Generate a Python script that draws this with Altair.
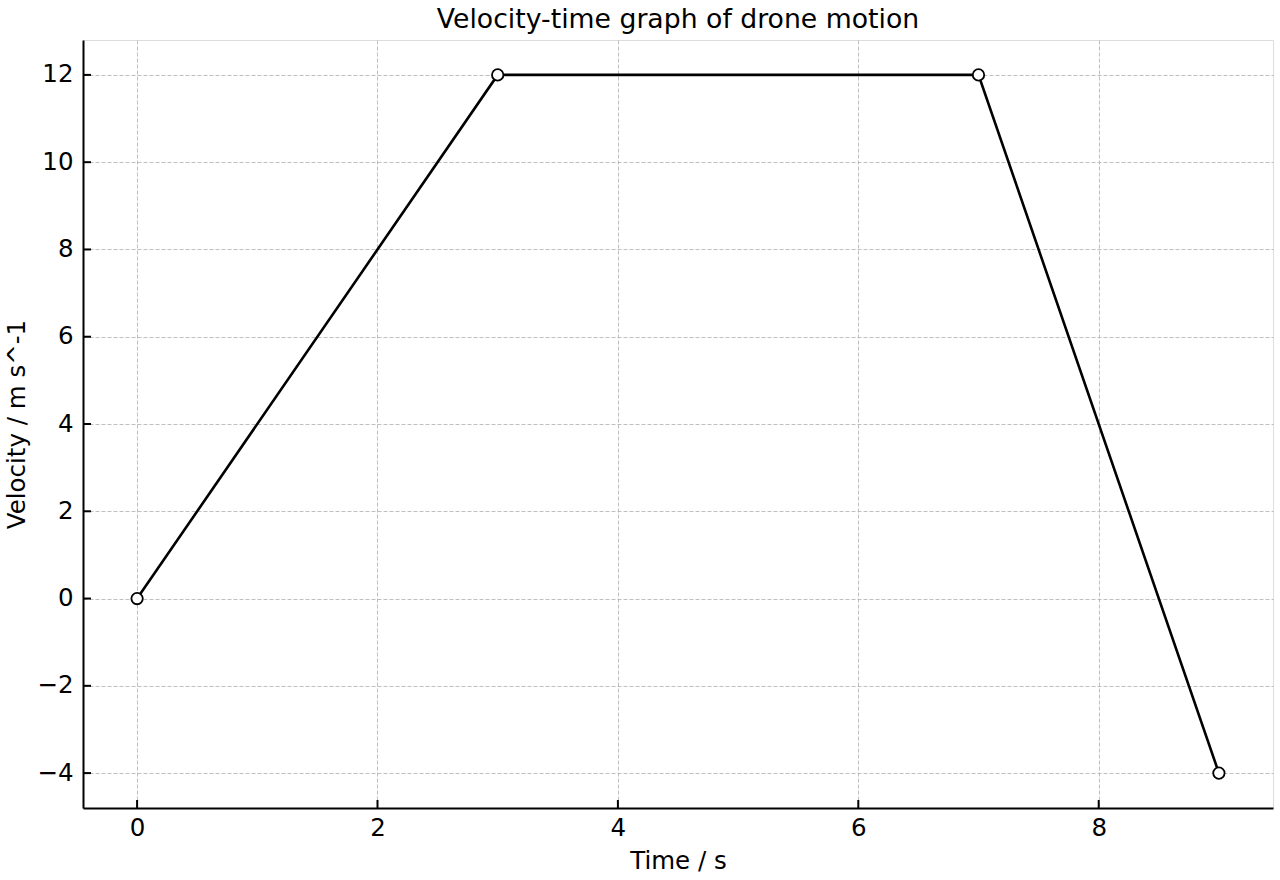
import altair as alt
import pandas as pd

time_s = [0, 3, 7, 9]
velocity = [0, 12, 12, -4]
x_ticks = [0, 2, 4, 6, 8]
y_ticks = [-4, -2, 0, 2, 4, 6, 8, 10, 12]

FONT = "DejaVu Sans"
LS = 24.5

df = pd.DataFrame({"t": time_s, "v": velocity})
xt = pd.DataFrame({"t": x_ticks})
yt = pd.DataFrame({"v": y_ticks})

xscale = alt.Scale(domain=[-0.45, 9.45], nice=False, zero=False)
yscale = alt.Scale(domain=[-4.8, 12.8], nice=False, zero=False)

xaxis = alt.Axis(
    values=x_ticks, title="Time / s", tickSize=0, labelPadding=8, format="d",
    labelExpr="replace(datum.label, '-', '\u2212')",
    labelFont=FONT, labelFontSize=LS, labelColor="black",
    titleFont=FONT, titleFontSize=LS, titleFontWeight="normal", titleColor="black",
    titlePadding=10,
)
yaxis = alt.Axis(
    values=y_ticks, title="Velocity / m s^-1", tickSize=0, labelPadding=10, format="d",
    labelExpr="replace(datum.label, '-', '\u2212')",
    labelFont=FONT, labelFontSize=LS, labelColor="black",
    titleFont=FONT, titleFontSize=LS, titleFontWeight="normal", titleColor="black",
    titlePadding=7,
)

X = alt.X("t:Q", scale=xscale, axis=xaxis)
Y = alt.Y("v:Q", scale=yscale, axis=yaxis)

line = alt.Chart(df).mark_line(color="black", strokeWidth=2.6).encode(x=X, y=Y)
points = alt.Chart(df).mark_point(
    shape="circle", filled=True, fill="white", stroke="black", strokeWidth=1.8, size=130, opacity=1
).encode(x=X, y=Y)

xtick_marks = alt.Chart(xt).mark_rule(color="black", strokeWidth=2).encode(
    x=X, y=alt.value(768), y2=alt.value(760)
)
ytick_marks = alt.Chart(yt).mark_rule(color="black", strokeWidth=2).encode(
    y=Y, x=alt.value(0), x2=alt.value(8)
)

chart = alt.layer(line, points, xtick_marks, ytick_marks).properties(
    width=1190, height=768,
    title=alt.TitleParams(
        "Velocity-time graph of drone motion", font=FONT, fontSize=26.7,
        fontWeight="normal", color="black", anchor="middle",
        baseline="alphabetic", offset=12, dy=27,
    ),
    padding={"left": 83, "top": 40, "right": 7, "bottom": 72},
    autosize=alt.AutoSizeParams(type="none"),
).configure_view(stroke=None).configure(background="white").configure_axis(
    grid=True, gridColor="#b8b8b8", gridDash=[4, 2], gridWidth=0.9,
    domainColor="black", domainWidth=2, tickSize=0,
    labelFont=FONT, labelFontSize=LS, labelColor="black",
    titleFont=FONT, titleFontSize=LS, titleFontWeight="normal", titleColor="black",
)

chart.save("out.html", embed_options={"renderer": "svg", "actions": False})
